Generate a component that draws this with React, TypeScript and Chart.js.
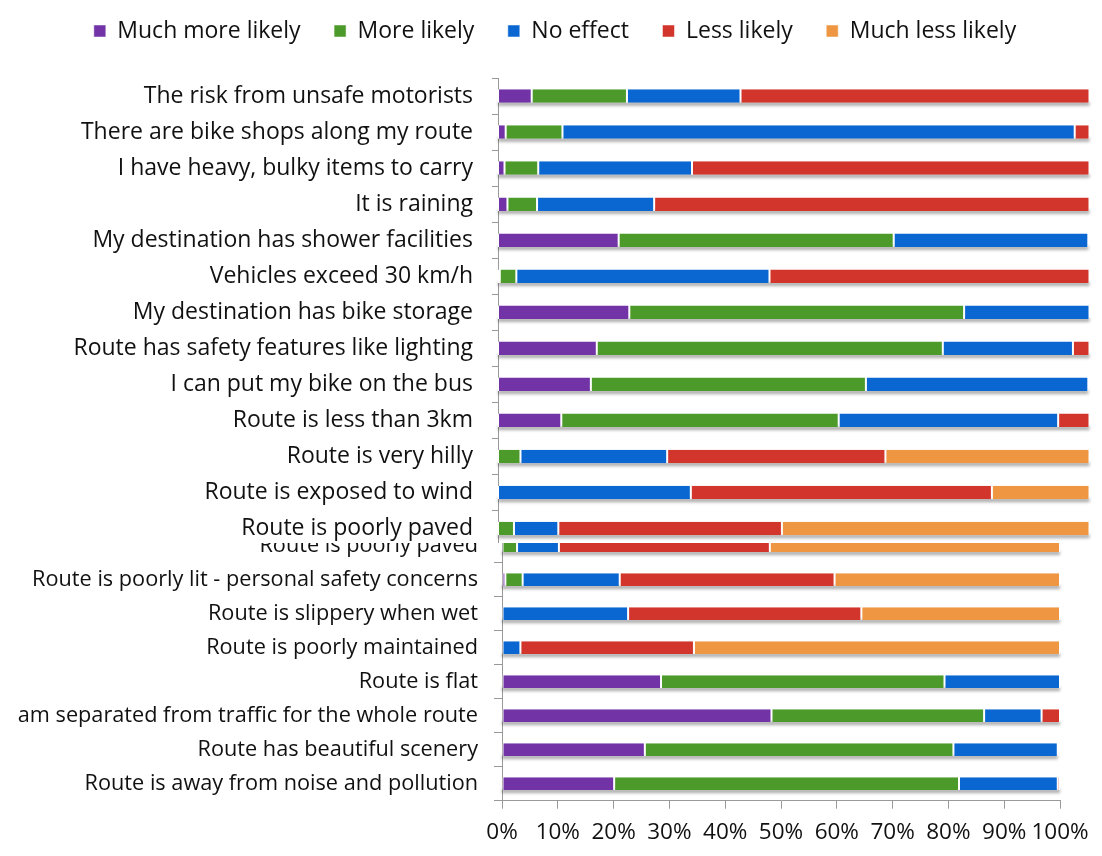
import React, { useEffect, useRef } from 'react';
import { Chart, registerables } from 'chart.js';

Chart.register(...registerables);

const FONT = '"Open Sans", "Noto Sans", sans-serif';

const seriesNames = ['Much more likely', 'More likely', 'No effect', 'Less likely', 'Much less likely'];
const seriesColors = ['#7133A6', '#4C9A2A', '#0A67D2', '#D2352B', '#EE9642'];

const topCategories = [
  'The risk from unsafe motorists',
  'There are bike shops along my route',
  'I have heavy, bulky items to carry',
  'It is raining',
  'My destination has shower facilities',
  'Vehicles exceed 30 km/h',
  'My destination has bike storage',
  'Route has safety features like lighting',
  'I can put my bike on the bus',
  'Route is less than 3km',
  'Route is very hilly',
  'Route is exposed to wind',
  'Route is poorly paved',
];
const topMuchMore = [5.7, 1.3, 1.1, 1.6, 20.4, 0.3, 22.2, 16.7, 15.7, 10.7, 0, 0, 0];
const topMore = [16.1, 9.6, 5.7, 5.0, 46.5, 2.8, 56.6, 58.5, 46.5, 46.9, 3.8, 0, 2.7];
const topNoEffect = [19.2, 86.6, 26.0, 19.8, 32.9, 42.8, 21.2, 22.0, 37.6, 37.1, 24.8, 32.6, 7.5];
const topLess = [59.0, 2.5, 67.2, 73.6, 0, 54.1, 0, 2.8, 0, 5.3, 36.9, 50.9, 37.8];
const topMuchLess = [0, 0, 0, 0, 0, 0, 0, 0, 0, 0, 34.5, 16.5, 52.0];

const bottomCategories = [
  'Route is poorly paved',
  'Route is poorly lit - personal safety concerns',
  'Route is slippery when wet',
  'Route is poorly maintained',
  'Route is flat',
  'am separated from traffic for the whole route',
  'Route has beautiful scenery',
  'Route is away from noise and pollution',
];
const bottomMuchMore = [0, 0.6, 0, 0, 28.5, 48.3, 25.6, 20.1];
const bottomMore = [2.7, 3.1, 0, 0, 50.8, 38.1, 55.3, 61.8];
const bottomNoEffect = [7.5, 17.4, 22.6, 3.3, 20.7, 10.3, 18.7, 17.7];
const bottomLess = [37.8, 38.5, 41.8, 31.1, 0, 3.3, 0, 0.4];
const bottomMuchLess = [52.0, 40.4, 35.6, 65.6, 0, 0, 0, 0];

const xTickLabels = ['0%', '10%', '20%', '30%', '40%', '50%', '60%', '70%', '80%', '90%', '100%'];

const LEGEND_FONT = 23;
const LEGEND_PAD = 33.5;

function makeDatasets(series: number[][]) {
  return series.map((d, i) => ({
    label: seriesNames[i],
    data: d,
    backgroundColor: seriesColors[i],
    borderColor: '#ffffff',
    borderWidth: { left: 1, right: 1, top: 0, bottom: 0 },
    borderSkipped: false,
    barPercentage: 0.75,
    categoryPercentage: 0.5,
  }));
}

const shadowPlugin = {
  id: 'barShadow',
  beforeDatasetsDraw(chart: any) {
    const ctx = chart.ctx;
    const meta0 = chart.getDatasetMeta(0);
    const xs = chart.scales.x;
    ctx.save();
    ctx.filter = 'blur(1.5px)';
    ctx.fillStyle = 'rgba(0,0,0,0.32)';
    meta0.data.forEach((el: any, i: number) => {
      const total = chart.data.datasets.reduce((s: number, d: any) => s + (d.data[i] as number), 0);
      const x0 = xs.getPixelForValue(0);
      const x1 = xs.getPixelForValue(total);
      const h = el.height;
      ctx.fillRect(x0, el.y + h / 2 - 1, x1 - x0, 4);
    });
    ctx.restore();
  },
};

const legendShiftPlugin = {
  id: 'legendShift',
  afterLayout(chart: any) {
    const lg = chart.legend;
    if (!lg || !chart.options.plugins.legend.display) return;
    const targetTop = 31 - LEGEND_PAD - LEGEND_FONT / 2;
    const dy = targetTop - lg.top;
    lg.top += dy;
    lg.bottom += dy;
  },
};

export default function App() {
  const topRef = useRef<HTMLCanvasElement | null>(null);
  const bottomRef = useRef<HTMLCanvasElement | null>(null);

  useEffect(() => {
    const legendHeight = LEGEND_FONT + LEGEND_PAD + 10;
    const top = new Chart(topRef.current as HTMLCanvasElement, {
      type: 'bar',
      data: {
        labels: topCategories,
        datasets: makeDatasets([topMuchMore, topMore, topNoEffect, topLess, topMuchLess]) as any,
      },
      options: {
        indexAxis: 'y',
        animation: false,
        responsive: false,
        maintainAspectRatio: false,
        layout: { padding: { left: 20.5, right: 12.5, top: 78 - legendHeight, bottom: 13.5 } },
        plugins: {
          legend: {
            display: true,
            position: 'top',
            labels: {
              boxWidth: 12,
              boxHeight: 12,
              padding: LEGEND_PAD,
              color: '#111',
              font: { family: FONT, size: LEGEND_FONT },
            },
          },
          tooltip: { enabled: false },
        },
        scales: {
          x: { stacked: true, min: 0, max: 100, display: false },
          y: {
            stacked: true,
            grid: { display: true, drawOnChartArea: false, drawTicks: true, tickLength: 6, color: '#999', offset: true },
            border: { display: true, color: '#999', width: 1 },
            ticks: { color: '#111', font: { family: FONT, size: 23 }, padding: 19, autoSkip: false },
            afterFit: (s: any) => { s.width = 477.5; s.paddingTop = 0; s.paddingBottom = 0; },
          },
        },
      } as any,
      plugins: [shadowPlugin, legendShiftPlugin],
    });

    const bottom = new Chart(bottomRef.current as HTMLCanvasElement, {
      type: 'bar',
      data: {
        labels: bottomCategories,
        datasets: makeDatasets([bottomMuchMore, bottomMore, bottomNoEffect, bottomLess, bottomMuchLess]) as any,
      },
      options: {
        indexAxis: 'y',
        animation: false,
        responsive: false,
        maintainAspectRatio: false,
        layout: { padding: { left: 0, right: 42, top: 20.7, bottom: 0 } },
        plugins: { legend: { display: false }, tooltip: { enabled: false } },
        scales: {
          x: {
            stacked: true,
            min: 0,
            max: 100,
            grid: { display: true, drawOnChartArea: false, drawTicks: true, tickLength: 8, color: '#999' },
            border: { display: true, color: '#999', width: 1 },
            ticks: {
              stepSize: 10,
              autoSkip: false,
              maxRotation: 0,
              padding: 10,
              color: '#111',
              font: { family: FONT, size: 22.5 },
              callback: (_v: any, i: number) => xTickLabels[i],
            },
            afterFit: (s: any) => { s.height = 55.3; },
          },
          y: {
            stacked: true,
            grid: { display: true, drawOnChartArea: false, drawTicks: true, tickLength: 8, color: '#999', offset: true },
            border: { display: true, color: '#999', width: 1 },
            ticks: { color: '#111', font: { family: FONT, size: 21.7 }, padding: 16, autoSkip: false },
            afterFit: (s: any) => { s.width = 502; s.paddingTop = 0; s.paddingBottom = 0; },
          },
        },
      } as any,
      plugins: [shadowPlugin],
    });

    return () => {
      top.destroy();
      bottom.destroy();
    };
  }, []);

  return (
    <div style={{ position: 'fixed', left: 0, top: 0, width: 1102, height: 856, background: '#fff', overflow: 'hidden' }}>
      <div style={{ position: 'absolute', left: 0, top: 543, width: 1102, height: 313, overflow: 'hidden' }}>
        <canvas ref={bottomRef} width={1102} height={348} style={{ position: 'absolute', left: 0, top: -35, width: 1102, height: 348 }} />
      </div>
      <div style={{ position: 'absolute', left: 0, top: 0, width: 1102, height: 543, overflow: 'hidden', background: '#fff' }}>
        <canvas ref={topRef} width={1102} height={560} style={{ position: 'absolute', left: 0, top: 0, width: 1102, height: 560 }} />
      </div>
    </div>
  );
}
